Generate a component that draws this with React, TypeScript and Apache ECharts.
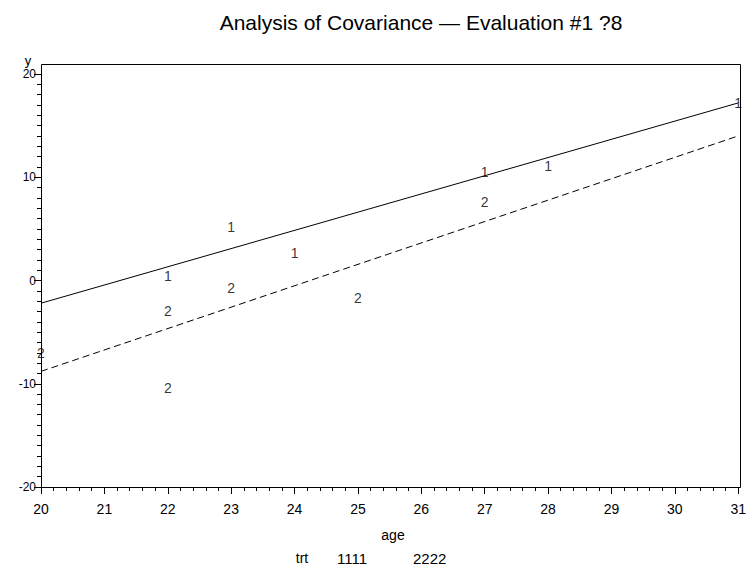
import React, { useEffect, useRef } from "react";
import * as echarts from "echarts";

const titleText = "Analysis of Covariance \u2014 Evaluation #1 ?8";
const xAxisName = "age";
const yAxisName = "y";
const legendTitle = "trt";
const legendItems = ["1111", "2222"];

const group1Age = [22, 23, 24, 27, 28, 31];
const group1Y = [0.45, 5.2, 2.7, 10.5, 11.1, 17.2];
const group2Age = [20, 22, 22, 23, 25, 27];
const group2Y = [-7.0, -3.0, -10.4, -0.7, -1.7, 7.6];

const fit1Ends = [[20, -2.2], [31, 17.2]];
const fit2Ends = [[20, -8.8], [31, 14.0]];

const FONT = "'Liberation Sans', Arial, Helvetica, sans-serif";

export default function App() {
  const ref = useRef<HTMLDivElement>(null);
  useEffect(() => {
    if (!ref.current) return;
    const chart = echarts.init(ref.current, undefined, { renderer: "svg" });
    const pts1 = group1Age.map((a, i) => [a, group1Y[i]]);
    const pts2 = group2Age.map((a, i) => [a, group2Y[i]]);
    const left = 41, right = 740, top = 64, bottom = 487;
    const pointLabel = (t: string) => ({
      show: true,
      position: "inside",
      formatter: t,
      color: "#000",
      fontSize: 14,
      fontFamily: FONT,
      textBorderWidth: 0,
      textBorderColor: "transparent",
    });
    const option: any = {
      animation: false,
      backgroundColor: "#fff",
      textStyle: { fontFamily: FONT },
      grid: { left: left, right: 749 - right, top: 74, bottom: 567 - bottom, show: false },
      xAxis: {
        type: "value",
        min: 20,
        max: 31,
        interval: 1,
        axisLine: { show: true, onZero: false, lineStyle: { color: "#000", width: 1 } },
        axisTick: { show: true, inside: false, length: 7, lineStyle: { color: "#000" } },
        minorTick: { show: true, splitNumber: 5, length: 4, lineStyle: { color: "#000" } },
        splitLine: { show: false },
        minorSplitLine: { show: false },
        axisLabel: { color: "#000", fontSize: 14, margin: 15, fontFamily: FONT },
      },
      yAxis: {
        type: "value",
        min: -20,
        max: 20,
        interval: 10,
        axisLine: { show: true, onZero: false, lineStyle: { color: "#000", width: 1 } },
        axisTick: { show: true, inside: false, length: 7, lineStyle: { color: "#000" } },
        minorTick: { show: true, splitNumber: 10, length: 4, lineStyle: { color: "#000" } },
        splitLine: { show: false },
        minorSplitLine: { show: false },
        axisLabel: { color: "#000", fontSize: 12, margin: 5, fontFamily: FONT },
      },
      graphic: [
        {
          type: "rect",
          shape: { x: left + 0.5, y: top + 0.5, width: right - left, height: bottom - top },
          style: { fill: "none", stroke: "#000", lineWidth: 1 },
          silent: true,
        },
        {
          type: "text",
          x: 421,
          y: 22,
          style: { text: titleText, font: `21px ${FONT}`, fill: "#000", textAlign: "center", textVerticalAlign: "middle" },
        },
        {
          type: "text",
          x: 28,
          y: 60,
          style: { text: yAxisName, font: `13px ${FONT}`, fill: "#000", textAlign: "center", textVerticalAlign: "middle" },
        },
        {
          type: "text",
          x: 393,
          y: 535,
          style: { text: xAxisName, font: `14px ${FONT}`, fill: "#000", textAlign: "center", textVerticalAlign: "middle" },
        },
        {
          type: "text",
          x: 302,
          y: 558,
          style: { text: legendTitle, font: `14px ${FONT}`, fill: "#000", textAlign: "center", textVerticalAlign: "middle" },
        },
        {
          type: "text",
          x: 337,
          y: 558,
          style: { text: legendItems[0], font: `15px ${FONT}`, fill: "#000", textAlign: "left", textVerticalAlign: "middle" },
        },
        {
          type: "text",
          x: 413,
          y: 558,
          style: { text: legendItems[1], font: `15px ${FONT}`, fill: "#000", textAlign: "left", textVerticalAlign: "middle" },
        },
      ],
      series: [
        {
          type: "line",
          data: fit1Ends,
          symbol: "none",
          lineStyle: { color: "#000", width: 1, type: "solid" },
          silent: true,
        },
        {
          type: "line",
          data: fit2Ends,
          symbol: "none",
          lineStyle: { color: "#000", width: 1, type: [7, 4] },
          silent: true,
        },
        {
          type: "scatter",
          data: pts1,
          symbolSize: 1,
          clip: false,
          itemStyle: { color: "transparent" },
          label: pointLabel("1"),
        },
        {
          type: "scatter",
          data: pts2,
          symbolSize: 1,
          clip: false,
          itemStyle: { color: "transparent" },
          label: pointLabel("2"),
        },
      ],
    };
    chart.setOption(option);
    return () => chart.dispose();
  }, []);
  return <div ref={ref} style={{ width: 749, height: 567, position: "absolute", left: 0, top: 0 }} />;
}
